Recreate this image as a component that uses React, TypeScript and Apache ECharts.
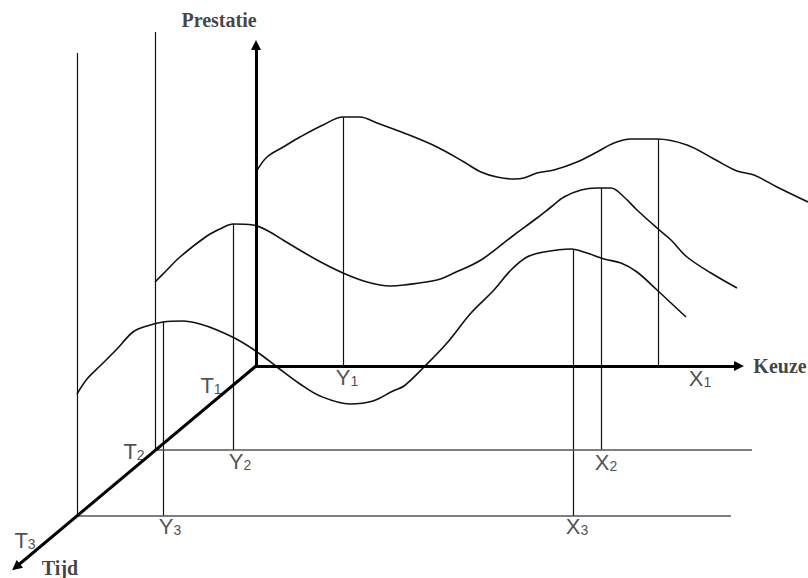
import React, { useEffect, useRef } from "react";
import * as echarts from "echarts";

// Diagram coordinates (pixel-like units on hidden value axes)
const curveT1: number[][] = [
  [256, 172], [267, 157], [285, 146], [300, 137], [323, 125], [343, 117], [360, 117],
  [377, 123], [404, 133], [437, 147], [464, 162], [481, 172], [497, 177], [514, 179],
  [524, 178], [537, 173], [554, 170], [577, 162], [597, 152], [614, 143], [631, 139],
  [657, 139], [687, 145], [714, 159], [737, 171], [754, 175], [777, 187], [808, 202],
];
const curveT2: number[][] = [
  [155, 282], [165, 272], [180, 257], [207, 236], [222, 228], [233, 224], [253, 225],
  [270, 232], [283, 240], [317, 260], [343, 273], [367, 282], [390, 286], [404, 285],
  [437, 280], [454, 273], [481, 260], [514, 235], [537, 218], [551, 207], [564, 197],
  [581, 190], [597, 188], [611, 188], [624, 197], [637, 210], [657, 228], [671, 240],
  [687, 257], [711, 273], [737, 288],
];
const curveT3: number[][] = [
  [77, 394], [87, 379], [100, 366], [117, 349], [133, 332], [147, 326], [163, 322],
  [183, 321], [200, 324], [217, 330], [240, 341], [260, 354], [277, 367], [300, 384],
  [320, 396], [350, 404], [373, 401], [393, 391], [404, 386], [424, 367], [447, 343],
  [471, 313], [494, 290], [511, 270], [527, 257], [544, 252], [571, 249],
  [587, 253], [604, 259], [621, 263], [637, 272], [657, 290], [671, 303], [686, 317],
];

const axisSegments: number[][][] = [
  [[256, 368], [256, 45]],   // Prestatie
  [[255, 366], [739, 366]],  // Keuze
  [[256, 366], [16, 567]],   // Tijd
];

const verticalSegments: number[][][] = [
  [[77, 53], [77, 516]],
  [[155, 32], [155, 450]],
  [[343, 117], [343, 366]],
  [[658, 139], [658, 366]],
  [[233, 224], [233, 450]],
  [[601, 188], [601, 450]],
  [[163, 322], [163, 516]],
  [[573, 250], [573, 516]],
];

const horizontalSegments: number[][][] = [
  [[156, 450], [752, 450]],
  [[77, 516], [731, 516]],
];

const pointLabels: [number, number, string, string][] = [
  [211, 385, "T", "1"],
  [134, 451, "T", "2"],
  [25, 540, "T", "3"],
  [347, 377, "Y", "1"],
  [240, 461, "Y", "2"],
  [170, 526, "Y", "3"],
  [700, 378, "X", "1"],
  [606, 462, "X", "2"],
  [577, 526, "X", "3"],
];

const axisTitles: [number, number, string][] = [
  [219, 20, "Prestatie"],
  [780, 366, "Keuze"],
  [60, 568, "Tijd"],
];

export default function App() {
  const ref = useRef<HTMLDivElement>(null);
  useEffect(() => {
    if (!ref.current) return;
    const chart = echarts.init(ref.current, undefined, { renderer: "svg" });
    const curveSeries = [curveT1, curveT2, curveT3].map((c) => ({
      type: "line",
      data: c,
      smooth: 0.35,
      showSymbol: false,
      symbol: "none",
      lineStyle: { color: "#111", width: 1.6 },
      silent: true,
      z: 3,
    }));
    chart.setOption({
      animation: false,
      backgroundColor: "#ffffff",
      grid: { left: 0, right: 0, top: 0, bottom: 0 },
      xAxis: { type: "value", min: 0, max: 808, show: false },
      yAxis: { type: "value", min: 0, max: 578, inverse: true, show: false },
      series: [
        ...curveSeries,
        {
          type: "lines",
          coordinateSystem: "cartesian2d",
          data: verticalSegments.map((s) => ({ coords: s })),
          lineStyle: { color: "#111", width: 1.2, opacity: 1 },
          symbol: "none",
          silent: true,
          z: 2,
        },
        {
          type: "lines",
          coordinateSystem: "cartesian2d",
          data: horizontalSegments.map((s) => ({ coords: s })),
          lineStyle: { color: "#555", width: 1.6, opacity: 1 },
          symbol: "none",
          silent: true,
          z: 2,
        },
        {
          type: "lines",
          coordinateSystem: "cartesian2d",
          data: axisSegments.map((s) => ({ coords: s })),
          lineStyle: { color: "#000", width: 3, opacity: 1 },
          itemStyle: { color: "#000" },
          symbol: ["none", "triangle"],
          symbolSize: 10,
          silent: true,
          z: 4,
        },
        {
          type: "scatter",
          data: pointLabels.map((p) => [p[0], p[1], p[2], p[3]]),
          symbolSize: 0,
          itemStyle: { color: "transparent" },
          silent: true,
          z: 5,
          label: {
            show: true,
            position: "inside",
            fontSize: 22,
            formatter: (p: any) => `{m|${p.value[2]}}{s|${p.value[3]}}`,
            rich: {
              m: {
                fontFamily: "Liberation Sans, Arial, sans-serif",
                fontSize: 22,
                lineHeight: 22,
                color: "#222",
              },
              s: {
                fontFamily: "Liberation Sans, Arial, sans-serif",
                fontSize: 14,
                lineHeight: 15,
                color: "#222",
                verticalAlign: "bottom",
              },
            },
          },
        },
        {
          type: "scatter",
          data: axisTitles.map((p) => [p[0], p[1], p[2]]),
          symbolSize: 0,
          itemStyle: { color: "transparent" },
          silent: true,
          z: 5,
          label: {
            show: true,
            position: "inside",
            formatter: (p: any) => p.value[2],
            fontFamily: "Liberation Serif, Times New Roman, serif",
            fontWeight: "bold",
            fontSize: 20,
            color: "#111",
          },
        },
      ],
    });
    return () => chart.dispose();
  }, []);
  return (
    <div
      ref={ref}
      style={{ position: "fixed", left: 0, top: 0, width: 808, height: 578, background: "#fff" }}
    />
  );
}
